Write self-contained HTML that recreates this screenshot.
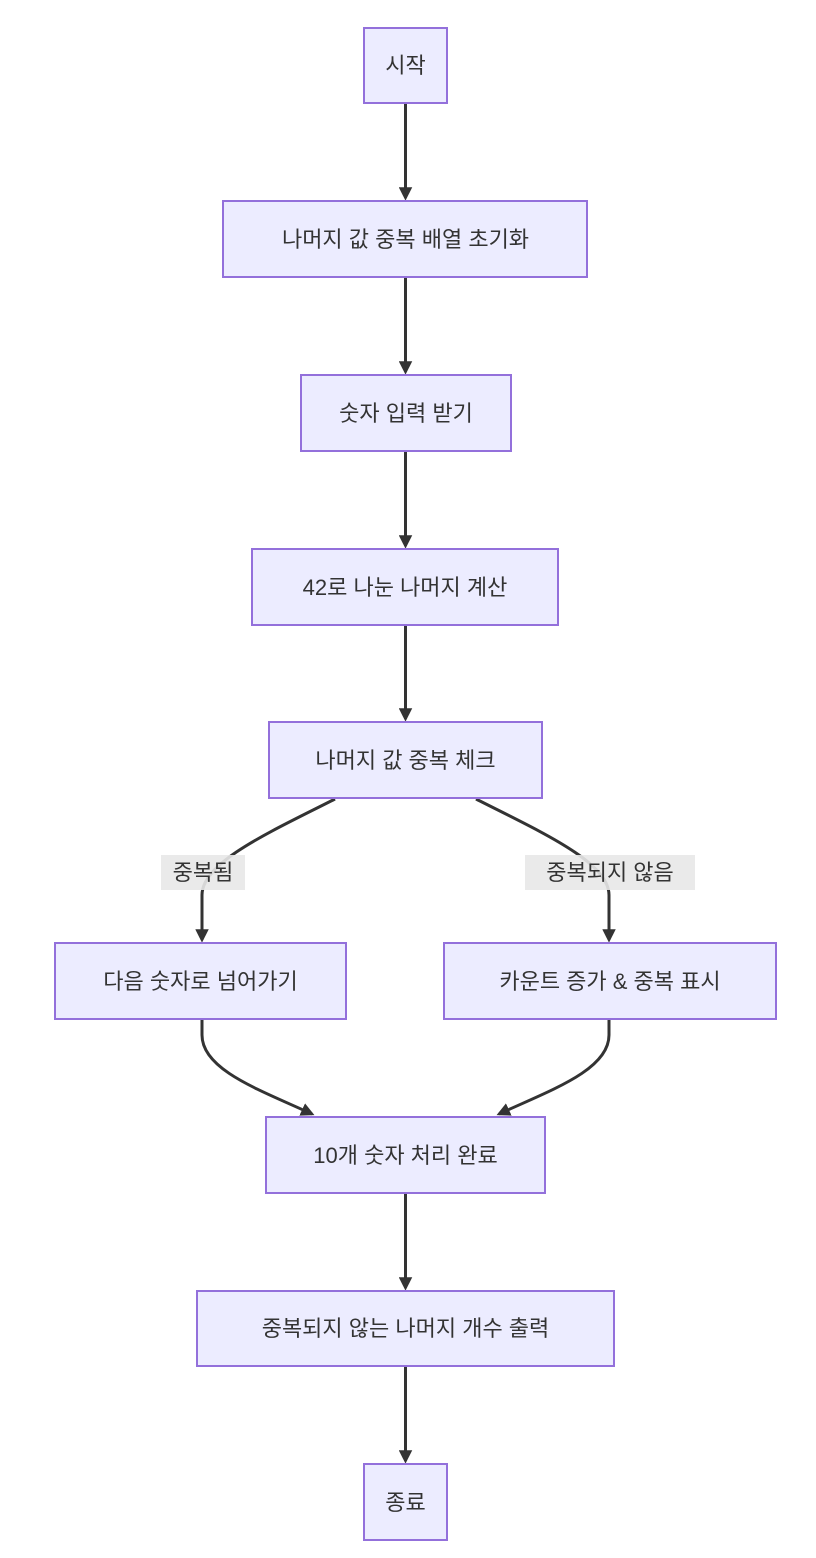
<!DOCTYPE html>
<html><head><meta charset="utf-8"><style>
html,body{margin:0;padding:0;background:#fff;}
svg{display:block;}
text{font-family:"Liberation Sans","Noto Sans CJK KR",sans-serif;font-size:22px;fill:#333;}
.n{fill:#ECECFF;stroke:#9370DB;stroke-width:2;}
.e{fill:none;stroke:#333;stroke-width:3;}
</style></head><body>
<svg width="816" height="1558" viewBox="0 0 816 1558" xmlns="http://www.w3.org/2000/svg">
<defs><marker id="a" viewBox="0 0 10 10" refX="8" refY="5" markerWidth="4.5" markerHeight="4.5" orient="auto" markerUnits="strokeWidth"><path d="M0,0L10,5L0,10z" fill="#333"/></marker></defs>
<g>
<path class="e" d="M405.5,103V198" marker-end="url(#a)"/>
<path class="e" d="M405.5,277V372" marker-end="url(#a)"/>
<path class="e" d="M405.5,451V546" marker-end="url(#a)"/>
<path class="e" d="M405.5,625V719" marker-end="url(#a)"/>
<path class="e" d="M335,799C270,832 202,862 202,895V940" marker-end="url(#a)"/>
<path class="e" d="M476,799C541,832 609,862 609,895V940" marker-end="url(#a)"/>
<path class="e" d="M202,1019V1035C202,1070 260,1090 312,1114" marker-end="url(#a)"/>
<path class="e" d="M609,1019V1035C609,1070 551,1090 499,1114" marker-end="url(#a)"/>
<path class="e" d="M405.5,1193V1288" marker-end="url(#a)"/>
<path class="e" d="M405.5,1366V1461" marker-end="url(#a)"/>
</g>
<rect x="161" y="855" width="84" height="35" fill="#e8e8e8" opacity="0.9"/>
<text x="203" y="880" text-anchor="middle">중복됨</text>
<rect x="525" y="855" width="170" height="35" fill="#e8e8e8" opacity="0.9"/>
<text x="610" y="880" text-anchor="middle">중복되지 않음</text>
<rect class="n" x="364" y="28" width="83" height="75"/><text x="405.5" y="73" text-anchor="middle">시작</text>
<rect class="n" x="223" y="201" width="364" height="76"/><text x="405.5" y="247" text-anchor="middle">나머지 값 중복 배열 초기화</text>
<rect class="n" x="301" y="375" width="210" height="76"/><text x="406" y="421" text-anchor="middle">숫자 입력 받기</text>
<rect class="n" x="252" y="549" width="306" height="76"/><text x="405" y="595" text-anchor="middle">42로 나눈 나머지 계산</text>
<rect class="n" x="269" y="722" width="273" height="76"/><text x="405.5" y="768" text-anchor="middle">나머지 값 중복 체크</text>
<rect class="n" x="55" y="943" width="291" height="76"/><text x="200.5" y="989" text-anchor="middle">다음 숫자로 넘어가기</text>
<rect class="n" x="444" y="943" width="332" height="76"/><text x="610" y="989" text-anchor="middle">카운트 증가 &amp; 중복 표시</text>
<rect class="n" x="266" y="1117" width="279" height="76"/><text x="405.5" y="1163" text-anchor="middle">10개 숫자 처리 완료</text>
<rect class="n" x="197" y="1291" width="417" height="75"/><text x="405.5" y="1336" text-anchor="middle">중복되지 않는 나머지 개수 출력</text>
<rect class="n" x="364" y="1464" width="83" height="76"/><text x="405.5" y="1510" text-anchor="middle">종료</text>
</svg>
</body></html>
